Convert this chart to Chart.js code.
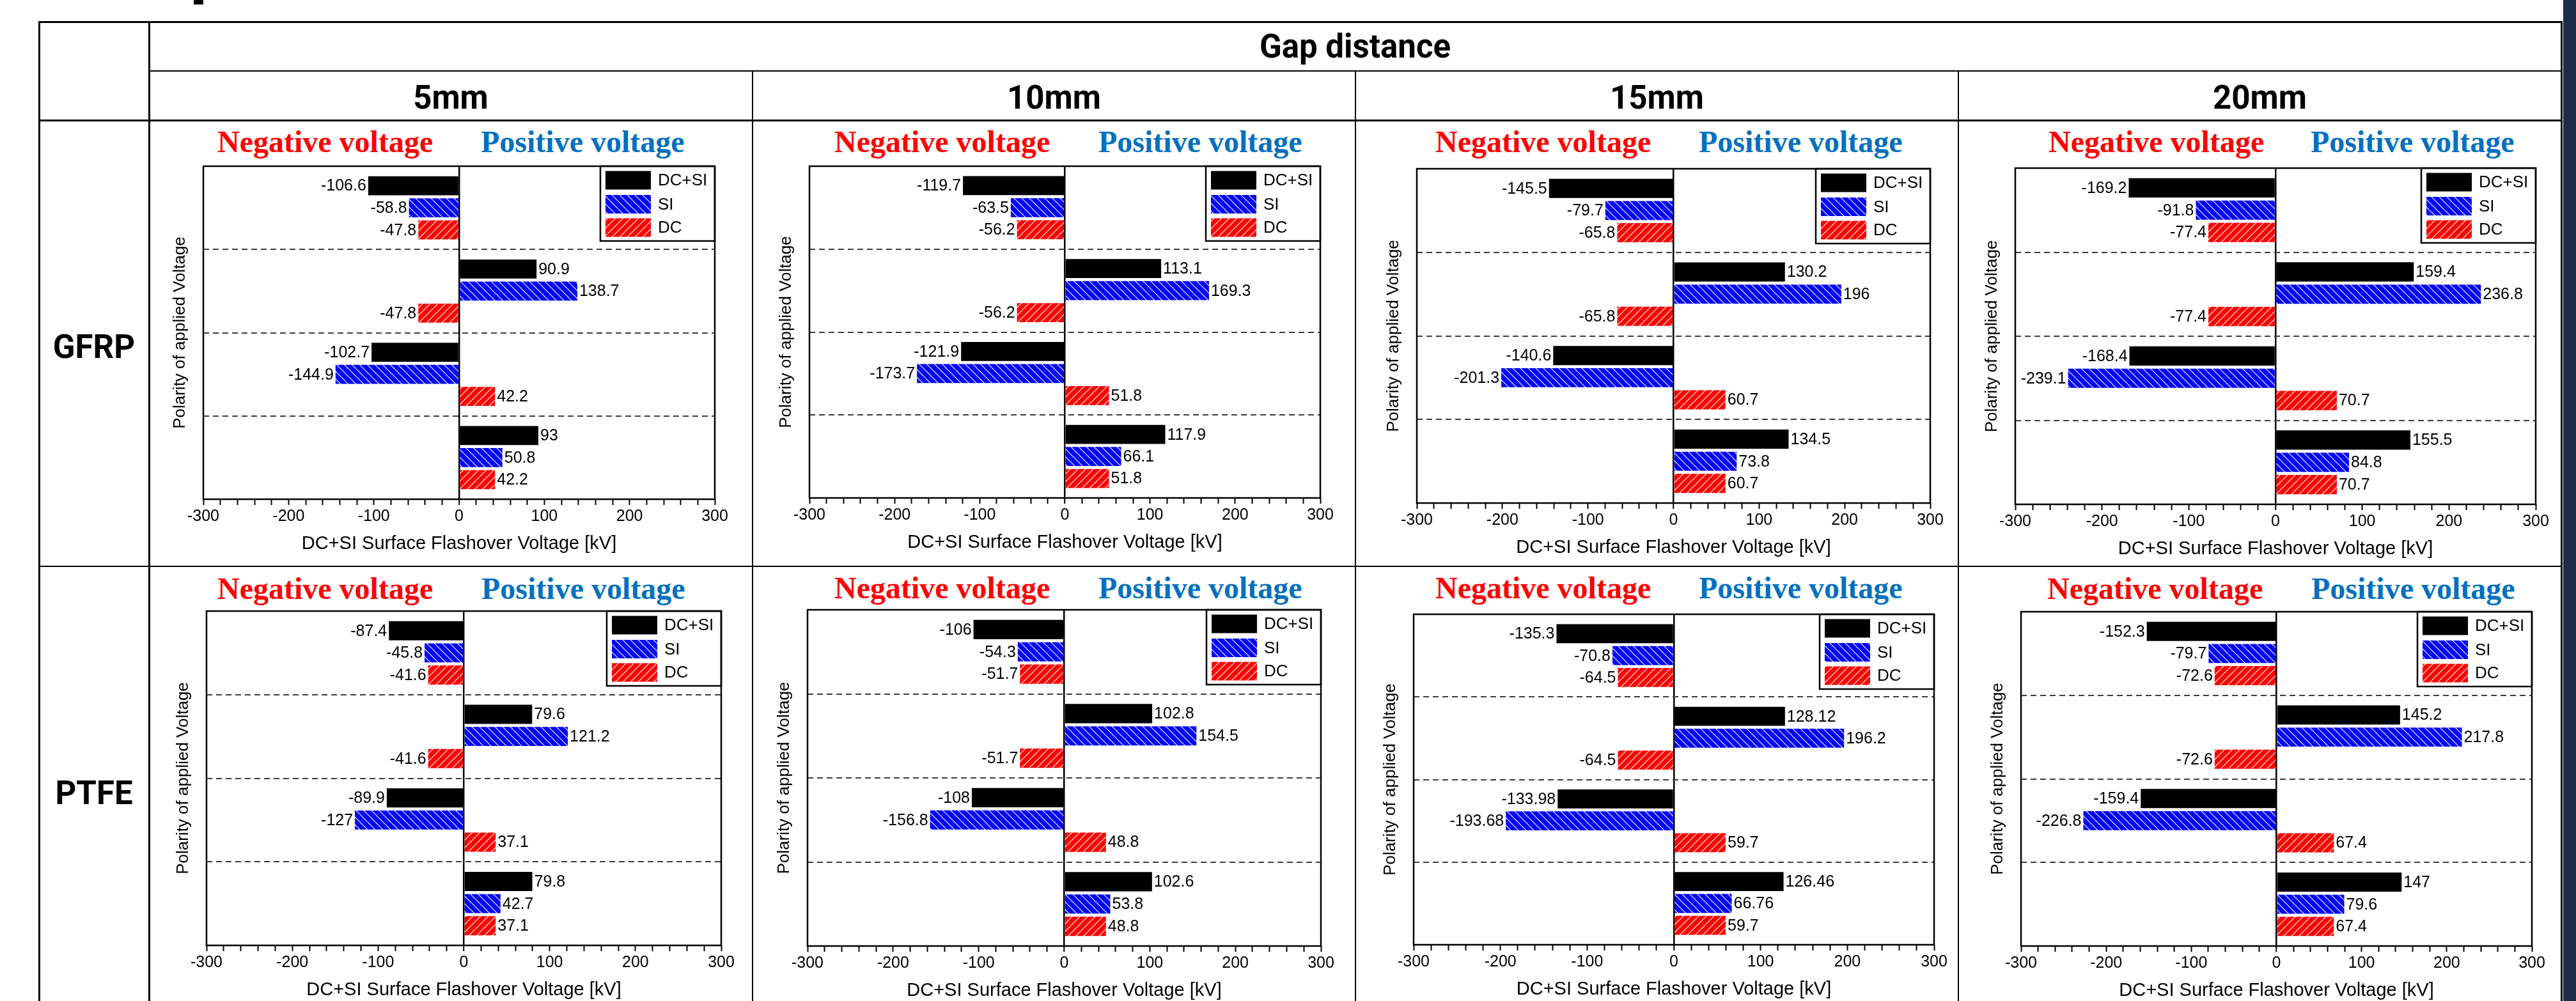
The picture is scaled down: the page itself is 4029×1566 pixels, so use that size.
<!DOCTYPE html>
<html><head><meta charset="utf-8">
<script src="https://cdn.jsdelivr.net/npm/chart.js@4.4.1/dist/chart.umd.min.js"></script>
<style>
html,body{margin:0;padding:0;background:#fff;}
body{width:4029px;height:1566px;position:relative;overflow:hidden;}
.ln{position:absolute;background:#000;}
.hdr{position:absolute;font-family:Roboto,'Noto Sans',sans-serif;font-weight:700;font-size:51px;line-height:51px;white-space:nowrap;color:#000;text-align:center;width:1000px;}
.ttl{position:absolute;font-family:'Liberation Serif','Times New Roman',serif;font-weight:700;font-size:48px;line-height:48px;white-space:nowrap;}
canvas{position:absolute;}
</style></head><body>
<script>
// ---------- data ----------
const categories = ['DC(-) SI(-)', 'DC(-) SI(+)', 'DC(+) SI(-)', 'DC(+) SI(+)'];
const seriesNames = ['DC+SI', 'SI', 'DC'];
const materials = ['GFRP', 'PTFE'];
const gaps = ['5mm', '10mm', '15mm', '20mm'];
const headerTitle = 'Gap distance';
const xTitle = 'DC+SI Surface Flashover Voltage [kV]';
const yTitle = 'Polarity of applied Voltage';
const negTitle = 'Negative voltage';
const posTitle = 'Positive voltage';
const xMin = -300, xMax = 300, xStep = 20, xLabelStep = 100;

const gfrp5_dcsi = [-106.6, 90.9, -102.7, 93];
const gfrp5_si   = [-58.8, 138.7, -144.9, 50.8];
const gfrp5_dc   = [-47.8, -47.8, 42.2, 42.2];

const gfrp10_dcsi = [-119.7, 113.1, -121.9, 117.9];
const gfrp10_si   = [-63.5, 169.3, -173.7, 66.1];
const gfrp10_dc   = [-56.2, -56.2, 51.8, 51.8];

const gfrp15_dcsi = [-145.5, 130.2, -140.6, 134.5];
const gfrp15_si   = [-79.7, 196, -201.3, 73.8];
const gfrp15_dc   = [-65.8, -65.8, 60.7, 60.7];

const gfrp20_dcsi = [-169.2, 159.4, -168.4, 155.5];
const gfrp20_si   = [-91.8, 236.8, -239.1, 84.8];
const gfrp20_dc   = [-77.4, -77.4, 70.7, 70.7];

const ptfe5_dcsi = [-87.4, 79.6, -89.9, 79.8];
const ptfe5_si   = [-45.8, 121.2, -127, 42.7];
const ptfe5_dc   = [-41.6, -41.6, 37.1, 37.1];

const ptfe10_dcsi = [-106, 102.8, -108, 102.6];
const ptfe10_si   = [-54.3, 154.5, -156.8, 53.8];
const ptfe10_dc   = [-51.7, -51.7, 48.8, 48.8];

const ptfe15_dcsi = [-135.3, 128.12, -133.98, 126.46];
const ptfe15_si   = [-70.8, 196.2, -193.68, 66.76];
const ptfe15_dc   = [-64.5, -64.5, 59.7, 59.7];

const ptfe20_dcsi = [-152.3, 145.2, -159.4, 147];
const ptfe20_si   = [-79.7, 217.8, -226.8, 79.6];
const ptfe20_dc   = [-72.6, -72.6, 67.4, 67.4];

const panelSeries = [
  [gfrp5_dcsi, gfrp5_si, gfrp5_dc],
  [gfrp10_dcsi, gfrp10_si, gfrp10_dc],
  [gfrp15_dcsi, gfrp15_si, gfrp15_dc],
  [gfrp20_dcsi, gfrp20_si, gfrp20_dc],
  [ptfe5_dcsi, ptfe5_si, ptfe5_dc],
  [ptfe10_dcsi, ptfe10_si, ptfe10_dc],
  [ptfe15_dcsi, ptfe15_si, ptfe15_dc],
  [ptfe20_dcsi, ptfe20_si, ptfe20_dc]
];

// ---------- layout (page pixels) ----------
const plotBoxes = [ // [left, right, top, bottom] of each plot area
  [318, 1118, 260, 781], [1266, 2065, 260, 779], [2216, 3019, 264, 787], [3152, 3966, 263, 789],
  [323, 1128, 956, 1479], [1263, 2066, 954, 1480], [2211, 3025, 961, 1478], [3161, 3960, 957, 1480]
];
const titleSpots = [ // [negative-title left, positive-title left, baseline]
  [340, 752, 238], [1305, 1718, 238], [2245, 2657, 238], [3204, 3614, 238],
  [340, 753, 937], [1305, 1718, 936], [2245, 2657, 936], [3202, 3615, 937]
];

function addLine(l, t, w, h, color) {
  const d = document.createElement('div');
  d.className = 'ln';
  d.style.left = l + 'px'; d.style.top = t + 'px';
  d.style.width = w + 'px'; d.style.height = h + 'px';
  if (color) d.style.background = color;
  document.body.appendChild(d);
}
function addHdr(text, cx, baseline) {
  const d = document.createElement('div');
  d.className = 'hdr';
  d.textContent = text;
  d.style.left = (cx - 500) + 'px';
  d.style.top = (baseline - 42.9) + 'px';
  document.body.appendChild(d);
}
function addTitle(text, x, baseline, color) {
  const d = document.createElement('div');
  d.className = 'ttl';
  d.textContent = text;
  d.style.left = x + 'px';
  d.style.top = (baseline - 40.2) + 'px';
  d.style.color = color;
  document.body.appendChild(d);
}

// table grid
addLine(60, 33, 3948, 3);            // top
addLine(60, 33, 3, 1540);            // left
addLine(4005, 33, 3, 1540);          // right
addLine(232, 33, 3, 1540);           // first column divider
addLine(233, 110, 3774, 2);          // under "Gap distance"
addLine(60, 187, 3948, 3);           // under gap labels
addLine(60, 885, 3948, 2);           // between materials
[1176, 2119, 3062].forEach(x => addLine(x, 111, 2, 1460));
addLine(4009, 0, 20, 1566, '#1e2c4b'); // dark band at right edge
addLine(303, 0, 15, 7);              // cut-off glyph at the top

addHdr(headerTitle, 2119.5, 90);
const gapCenters = [705, 1648.5, 2591.5, 3534.5];
gaps.forEach((g, i) => addHdr(g, gapCenters[i], 170));
addHdr(materials[0], 147, 560);
addHdr(materials[1], 147, 1258);

// ---------- patterns ----------
function hatch(color, dir) {
  const s = 12;
  const c = document.createElement('canvas'); c.width = s; c.height = s;
  const g = c.getContext('2d');
  g.fillStyle = color; g.fillRect(0, 0, s, s);
  g.strokeStyle = '#fff'; g.lineWidth = 1.15;
  g.beginPath();
  for (const k of [-1, 0, 1]) {
    if (dir === 'back') { g.moveTo(k * s, 0); g.lineTo(k * s + s, s); }
    else { g.moveTo(k * s, s); g.lineTo(k * s + s, 0); }
  }
  g.stroke();
  return g.createPattern(c, 'repeat');
}
const seriesFills = ['#000000', hatch('#0000ff', 'back'), hatch('#ff0000', 'fwd')];

// ---------- plugins ----------
const valueLabels = {
  id: 'valueLabels',
  afterDatasetsDraw(chart) {
    const ctx = chart.ctx;
    ctx.save();
    ctx.font = '25px "Liberation Sans", Arial, sans-serif';
    ctx.fillStyle = '#000';
    ctx.textBaseline = 'middle';
    chart.data.datasets.forEach((ds, di) => {
      const meta = chart.getDatasetMeta(di);
      meta.data.forEach((bar, i) => {
        const v = ds.data[i];
        if (v < 0) { ctx.textAlign = 'right'; ctx.fillText(String(v), bar.x - 3, bar.y + 1); }
        else { ctx.textAlign = 'left'; ctx.fillText(String(v), bar.x + 3, bar.y + 1); }
      });
    });
    ctx.restore();
  }
};
const boxLegend = {
  id: 'boxLegend',
  afterDatasetsDraw(chart) {
    const ctx = chart.ctx, a = chart.chartArea;
    const w = 179, h = 117, x0 = a.right - w, y0 = a.top;
    const offs = [7.5, 45, 81.5];
    ctx.save();
    ctx.fillStyle = '#fff'; ctx.fillRect(x0, y0, w, h);
    ctx.lineWidth = 2.5; ctx.strokeStyle = '#000'; ctx.strokeRect(x0, y0, w, h);
    ctx.font = '26px "Liberation Sans", Arial, sans-serif';
    ctx.textBaseline = 'middle'; ctx.textAlign = 'left';
    chart.data.datasets.forEach((ds, i) => {
      const sy = y0 + offs[i];
      ctx.fillStyle = ds.backgroundColor;
      ctx.fillRect(x0 + 8, sy, 71, 29);
      ctx.fillStyle = '#000';
      ctx.fillText(ds.label, x0 + 90, sy + 15.5);
    });
    ctx.restore();
  }
};
const frame = {
  id: 'frame',
  afterDraw(chart) {
    const ctx = chart.ctx, a = chart.chartArea;
    ctx.save();
    ctx.lineWidth = 2.5; ctx.strokeStyle = '#000';
    ctx.strokeRect(a.left, a.top, a.right - a.left, a.bottom - a.top);
    ctx.restore();
  }
};

Chart.defaults.font.family = "'Liberation Sans', Arial, sans-serif";
Chart.defaults.color = '#000';

const Wy = 60, padTop = 6, padRight = 30, Hx = 90;

panelSeries.forEach((series, p) => {
  const [L, R, T, B] = plotBoxes[p];
  const [nx, px, bl] = titleSpots[p];
  addTitle(negTitle, nx, bl, '#ff0000');
  addTitle(posTitle, px, bl, '#0070c0');

  const cv = document.createElement('canvas');
  const cw = R - L + Wy + padRight, ch = B - T + padTop + Hx;
  cv.width = cw; cv.height = ch;
  cv.style.width = cw + 'px'; cv.style.height = ch + 'px';
  cv.style.left = (L - Wy) + 'px'; cv.style.top = (T - padTop) + 'px';
  document.body.appendChild(cv);

  new Chart(cv, {
    type: 'bar',
    data: {
      labels: categories,
      datasets: series.map((d, i) => ({
        label: seriesNames[i], data: d, backgroundColor: seriesFills[i], borderWidth: 0
      }))
    },
    options: {
      indexAxis: 'y',
      responsive: false,
      animation: false,
      devicePixelRatio: 1,
      layout: { padding: { left: 0, top: padTop, right: padRight, bottom: 0 } },
      datasets: { bar: { categoryPercentage: 0.795, barPercentage: 0.865 } },
      plugins: { legend: { display: false }, tooltip: { enabled: false } },
      scales: {
        x: {
          type: 'linear', min: xMin, max: xMax,
          ticks: {
            stepSize: xStep, autoSkip: false, maxRotation: 0, minRotation: 0, padding: 3,
            color: '#000', font: { size: 25 },
            callback: v => (v % xLabelStep === 0 ? String(v) : '')
          },
          grid: {
            color: c => (c.tick && c.tick.value === 0 ? '#000' : 'rgba(0,0,0,0)'),
            lineWidth: c => (c.tick && c.tick.value === 0 ? 2.5 : 1),
            drawTicks: true, tickLength: 9, tickColor: '#000', tickWidth: 2
          },
          border: { display: false },
          title: { display: true, text: xTitle, color: '#000', font: { size: 29 }, padding: { top: 0, bottom: 3 } },
          afterFit: s => { s.height = Hx; }
        },
        y: {
          type: 'category', offset: true,
          ticks: { display: false },
          grid: { offset: true, color: '#3c3c3c', lineWidth: 2, drawTicks: false },
          border: { display: false, dash: [9, 6] },
          title: { display: true, text: yTitle, color: '#000', font: { size: 26 }, padding: { top: 8.4, bottom: 0 } },
          afterFit: s => { s.width = Wy; }
        }
      }
    },
    plugins: [valueLabels, boxLegend, frame]
  });
});
</script>
</body></html>
